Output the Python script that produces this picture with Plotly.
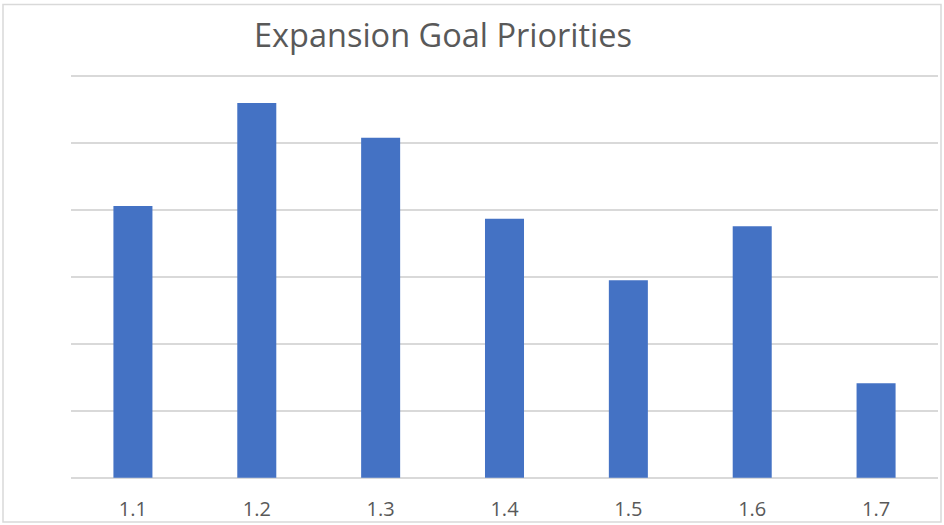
import plotly.graph_objects as go

categories = ["1.1", "1.2", "1.3", "1.4", "1.5", "1.6", "1.7"]
values = [4.06, 5.60, 5.08, 3.87, 2.95, 3.76, 1.41]
title_text = "Expansion Goal Priorities"

W, H = 944, 525
ymin, ymax = -0.02, 6.02
step_px = (477.7 - 76) / 6.0
top_px = 76 - (ymax - 6) * step_px
bot_px = 477.7 + (0 - ymin) * step_px
L, R = 71, 6
T, B = top_px, H - bot_px
pw, ph = W - L - R, bot_px - top_px

fig = go.Figure(go.Bar(x=categories, y=values, marker=dict(color="#4472C4", line=dict(width=0))))

fig.update_layout(
    width=W, height=H,
    margin=dict(l=L, r=R, t=T, b=B, pad=0, autoexpand=False),
    paper_bgcolor="white", plot_bgcolor="white",
    bargap=0.685,
    showlegend=False,
    title=dict(text=title_text, x=(443 - L) / pw, xref="paper", xanchor="center",
               y=1 - 36 / H, yref="container", yanchor="middle",
               font=dict(family="Open Sans", size=32.5, color="#595959")),
    xaxis=dict(type="category", showgrid=False, zeroline=False, showline=False, automargin=False,
               ticks="outside", ticklen=12, tickcolor="rgba(0,0,0,0)",
               tickfont=dict(family="Open Sans", size=20, color="#595959")),
    yaxis=dict(range=[ymin, ymax], tick0=0, dtick=1, showgrid=True, gridcolor="#D9D9D9", gridwidth=2,
               automargin=False, zeroline=False, showticklabels=False, showline=False, ticks=""),
    shapes=[dict(type="rect", xref="paper", yref="paper",
                 x0=(3 - L) / pw, x1=(941 - L) / pw,
                 y0=(bot_px - 522) / ph, y1=(bot_px - 4) / ph,
                 line=dict(color="#D9D9D9", width=1.5), fillcolor="rgba(0,0,0,0)", layer="below")],
)

fig.write_html("out.html", config={"displayModeBar": False},
               post_script="document.body.style.margin='0';document.body.style.overflow='hidden';")
